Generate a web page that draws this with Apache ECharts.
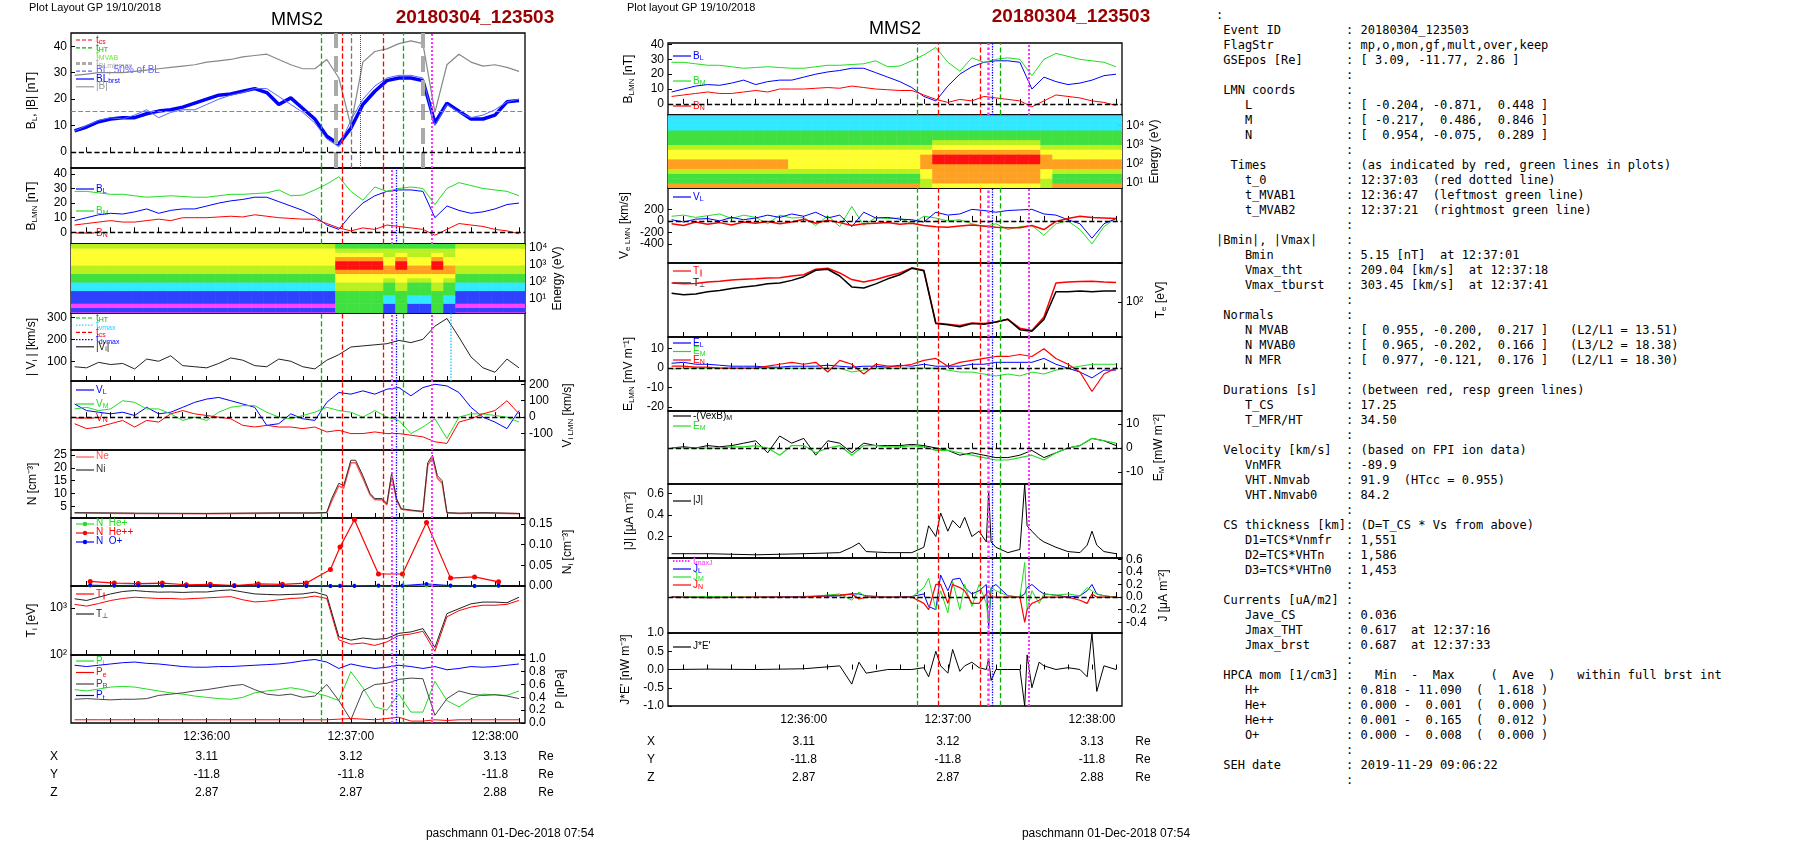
<!DOCTYPE html>
<html>
<head>
<meta charset="utf-8">
<title>MMS2 20180304_123503</title>
<script src="https://cdn.jsdelivr.net/npm/echarts@6/dist/echarts.min.js"></script>
<style>
  body { margin: 0; background: #fff; width: 1804px; height: 841px; overflow: hidden; }
  #chart { position: absolute; left: 0; top: 0; width: 1200px; height: 841px; }
  #info { position: absolute; left: 1216px; top: 8px; margin: 0;
          font-family: 'DejaVu Sans Mono', monospace; font-size: 12px; line-height: 15px; color: #000; }
</style>
</head>
<body>
<div id="chart"></div>
<pre id="info"></pre>
<script>
// ---- time grid (seconds after 12:35:00) ----
var T = [5,10,15,20,25,30,35,40,45,50,55,60,65,70,75,80,85,90,95,100,105,110,115,120,125,130,135,140,145,150,155,160,165,170,175,180,185,190];

// ---- magnetic field ----
var bLthick = [8,9.5,11.5,12.5,13,13,14.5,15.5,16,17,18.5,20,21.5,22,23,24,22.5,18,20.5,16.5,12.5,6,3,9,18,23,27,28,28,27,11,18.5,15.5,12.5,12.5,14,19,19.5];
var bTot = [29,29.5,30,30,30,30.5,31,31.5,32,32.5,33,34,34.5,35,36,36.5,37,35,33,31.5,31.5,35,28,10,34,38,39,41,42,41,15,33,37,34,32.5,33,32,30.5];
var bL = [8,10,12,13,12.5,14,16,13,15,16,16,18,20,21.5,22.5,24,24,21,18,15,11,5,2,12,20,25,28,29,29,28,10,18,15,13,14,16,19,20];
var bM = [28,28,27,26,26,25,24,24.5,25,24.5,24,24,25,26,26,26.5,27,29,25,25.5,29,33,38,28,22,31,28,30,31,30,19,30,34,32,30,29,28,25];
var bN = [5,6,7,8,7,7,8,9,8,10,10,10,10.5,11,10.5,12,11,10,9.5,9,9,6,3,1,3,2,5,4,3,2,-2,2,6,5,4,2,1,-1];

// ---- ion moments ----
var vAbs = [75,70,95,85,90,65,110,100,125,80,75,70,90,115,105,80,75,110,100,75,65,105,130,165,170,175,180,195,185,200,260,295,210,120,70,50,110,70];
var vL = [80,40,30,20,30,10,60,20,30,60,90,110,120,100,80,60,-50,-40,20,-10,-20,90,150,140,160,140,170,180,130,180,200,190,150,60,0,-30,-70,40];
var vM = [50,60,40,50,100,90,50,50,20,-20,0,-20,30,60,70,70,30,0,-10,10,30,60,40,30,0,40,0,-20,-100,-60,-10,-130,0,20,20,10,0,-30];
var vN = [-40,-70,-60,-40,-20,-60,-20,-30,20,40,20,10,0,-10,-50,-60,-50,-60,-60,-70,-60,-90,-80,-100,-100,-90,-100,-100,-110,-120,-150,-160,-30,-10,20,40,100,20];
var tN = [5,30,60,90,105,110,112,115,117,120,122,125,128,130,133,135,137,139,141,145,150,152,154,156,158,160,165,175,190];
var nI = [2.5,2.3,2.2,2.4,2.4,2.6,8,14,13,23,23,17,10,8,8,6,18,8,4,3.5,3,22,25,17,15,2.5,2.3,2.5,2.2];
var nE = [2.4,2.2,2.1,2.3,2.3,2.5,7,13,12,22,22,16,9.5,7.5,7.5,5.5,17,7.5,3.8,3.3,2.8,21,24,16,14,2.4,2.2,2.4,2.1];
var tHe = [11.5,21.5,31.5,41.5,51.5,61.5,71.5,81.5,91.5,101.5,111.5,115.5,121.5,131.5,141.5,151.5,161.5,171.5,181.5];
var nHep = [0.001,0,0.001,0,0,0,0,0,0,0,0,0.001,0.001,0,0,0.001,0,0,0];
var nHepp = [0.011,0.007,0.006,0.007,0.003,0.004,0.001,0.005,0.004,0.007,0.040,0.094,0.160,0.029,0.029,0.153,0.019,0.022,0.010];
var nOp = [0.002,0.001,0.002,0.001,0,0,0,0,0,0,0,0,0,0.001,0.001,0.005,0.001,0,0.001];
var tiPerp = [1575,1450,1700,2000,2250,2360,2250,2180,2200,2150,2200,2200,2350,2440,2200,2000,1950,1910,1950,2000,2180,1850,245,207,230,215,225,290,310,365,145,760,970,1230,1340,1340,1300,1700];
var tiPar = [1200,1100,1250,1450,1600,1700,1650,1600,1600,1550,1600,1650,1700,1750,1500,1350,1400,1500,1600,1650,1800,1600,210,170,180,160,190,260,280,320,120,650,880,1050,1150,1150,1200,1450];
var pTot = [0.9,0.88,0.9,0.92,0.94,0.95,0.93,0.92,0.9,0.88,0.87,0.87,0.88,0.88,0.89,0.9,0.91,0.92,0.94,0.97,0.99,0.95,0.85,0.92,0.88,0.85,0.87,0.9,0.88,0.85,0.88,0.83,0.85,0.88,0.87,0.88,0.9,0.92];
var pI = [0.52,0.5,0.53,0.56,0.57,0.56,0.53,0.5,0.47,0.45,0.42,0.4,0.38,0.37,0.4,0.47,0.5,0.52,0.55,0.52,0.47,0.42,0.35,0.8,0.55,0.25,0.2,0.45,0.17,0.17,0.65,0.35,0.25,0.38,0.45,0.44,0.43,0.5];
var pB = [0.37,0.38,0.37,0.36,0.37,0.37,0.38,0.43,0.45,0.47,0.5,0.52,0.55,0.58,0.6,0.52,0.45,0.43,0.45,0.4,0.42,0.6,0.35,0.05,0.5,0.6,0.62,0.68,0.7,0.69,0.12,0.38,0.5,0.45,0.43,0.44,0.42,0.38];
var pE = [0.05,0.05,0.05,0.05,0.05,0.05,0.05,0.05,0.05,0.05,0.05,0.05,0.05,0.05,0.05,0.05,0.05,0.05,0.05,0.05,0.05,0.05,0.06,0.07,0.06,0.05,0.07,0.09,0.03,0.03,0.05,0.04,0.05,0.05,0.05,0.05,0.05,0.05];

// ---- electrons / fields / currents ----
var veL = [20,-20,30,40,0,60,20,50,100,60,120,80,150,50,100,-100,150,50,60,30,20,-20,150,100,120,200,180,150,180,190,200,120,100,20,-50,-300,-50,40];
var veM = [80,100,60,90,120,40,100,60,-50,100,50,60,-80,90,-100,250,-80,60,40,50,-50,80,50,0,20,-50,-100,-50,-150,-100,-80,-250,-50,0,-150,-400,-100,50];
var veN = [-50,-80,-20,-60,-30,-70,-20,-40,-10,-50,-20,30,-40,10,-30,-80,-50,-40,-30,-60,-40,-80,-100,-110,-90,-70,-90,-110,-120,-120,-80,-150,-10,40,80,60,50,40];
var tePar = [240,230,235,250,260,275,285,290,300,305,330,350,450,470,380,280,250,280,330,380,480,430,38,36,34,38,37,40,45,30,27,50,240,250,255,260,250,245];
var tePerp = [150,140,145,160,170,185,200,210,230,240,270,320,430,450,330,200,190,230,290,350,470,420,37,35,32,37,36,40,45,28,26,45,160,160,165,160,165,165];
var eL = [2.5,3,2,2,1.5,1,1,1,0.5,0.5,1,1,1,1.5,1,0.5,1,1,0.5,1.5,1,2,1,1,1,2,2,3,3,3,3,5,2,0,-2,-5,-1,-1];
var eM = [-0.5,0,0,0,0,0,0,0,0,0,0,0,0,0,0,-2,-1,0,0,0,0,0,0,-1,-2,-2,-3,-4,-3,-4,-2,-3,-1,0,1,2,2,2];
var eN = [1,1,0.5,0.5,0,0,0,0,1,2,3,2,3,-2,4,2,-3,2,1,1,2,4,5,1,3,4,5,6,6,7,6,10,5,2,-2,-12,-3,0];
var vxbM = [0,0.5,0,1,0.5,1,2,3,-2,5,2,4,-3,3,2,-2,2,1,1,1,1.5,1,0,-1,-3,-2,-3,-4,-4,-3,-1,-4,-2,0,1,4,3,1];
var eMg = [0,0,0,0,0,0.5,0.5,1,0,-3,1,1,-2,0,1,-3,1,1,0.5,0.5,1,0.5,-1,-1,-2,-3,-4,-5,-5,-4,-3,-5,-2,0,1,4,3,2];
var tJ = [5,20,40,60,75,80,83,86,95,105,110,112,115,117,120,122,125,127,130,133,136,137,138,140,145,150,152,153,155,158,160,165,170,175,178,180,182,185,190];
var jAbs = [0.04,0.04,0.03,0.04,0.05,0.1,0.14,0.06,0.05,0.05,0.1,0.3,0.2,0.42,0.25,0.35,0.28,0.38,0.2,0.25,0.15,0.62,0.15,0.1,0.05,0.08,0.69,0.3,0.25,0.18,0.15,0.1,0.06,0.05,0.12,0.25,0.12,0.06,0.04];
var jL = [0.01,-0.01,0,0.01,0.02,0.05,0.05,0.02,0,0.01,0.05,-0.15,-0.2,0.35,0.1,0.28,0.3,0.15,0.05,0.1,0.2,-0.5,0.15,0.2,0.02,0,0.05,0.15,0.2,0.1,0.05,0.03,0,0.02,0.1,0.2,0.05,0.02,0];
var jM = [0,0.01,0,0,0.05,-0.05,0.08,0,0,0,0.15,0.3,-0.2,0.1,-0.25,0.25,-0.2,0.2,-0.15,0.2,-0.1,-0.4,0.15,0.1,0.02,0,0.55,-0.2,0.1,-0.1,0.05,0.03,0.05,0.02,0.15,0.1,0.05,0.02,0];
var jN = [0,-0.01,0,0,0.03,0.05,-0.03,0,0,0,-0.1,-0.2,0.2,0.2,-0.1,0.2,0.15,0.1,-0.1,-0.1,0.05,0.1,0,0,0,0,-0.4,-0.2,-0.1,-0.05,0,0,0,-0.05,-0.1,0.05,0,0,0];
var jE = [0,0.01,0,0.02,0.1,-0.4,0.2,-0.1,0,0,0.05,-0.2,0.5,0.1,-0.1,0.55,-0.05,0.1,0.2,0.05,0,0.3,-0.3,0,0,0,-1.0,0.4,-0.5,0.2,0.1,0,0.05,0,-0.2,1.0,-0.6,0.1,0];

// ---- spectrograms: colour level per energy bin (0.25 decade bins from 10^0) ----
var specT0 = 3.5, specDt = 5, specDe = 0.25;
var ionProfiles = [
  [0,1,0,1,1,1,2,2,3,3,4,4,5,5,5,5,4,4],   // magnetosphere
  [3,3,3,3,3,3,4,4,5,5,6,7,7,6,5,4,3,3],   // magnetosheath
  [1,1,1,2,2,3,3,3,4,5,6,6,5,5,4,4,3,3]    // mixed
];
var ionRegion = [0,0,0,0,0,0,0,0,0,0,0,0,0,0,0,0,0,0,0,0,0,0,1,1,1,1,2,1,2,2,1,2,0,0,0,0,0,0];
var eleProfiles = [
  [6,6,6,6,3,3,4,5,5,5,5,4,3,3,3,2,2,2,0],
  [5,5,5,5,6,6,6,6,7,7,6,5,4,3,3,2,2,2,0],
  [5,5,5,4,4,5,5,6,6,6,5,4,3,3,3,2,2,2,0],
  [6,6,6,6,3,3,4,6,6,5,5,4,3,3,3,2,2,2,0]
];
var eleRegion = [3,3,3,3,3,3,3,3,3,3,0,0,0,0,0,0,0,0,0,0,0,2,1,1,1,1,1,1,1,1,1,2,3,3,3,3,3,3];
var specColors = ['#ff40ff','#3040ff','#30e8ff','#40e040','#b8f020','#ffff30','#ffa020','#ff1010'];

var posT = [60,120,180];
var posX = ['3.11','3.12','3.13'];
var posY = ['-11.8','-11.8','-11.8'];
var posZ = ['2.87','2.87','2.88'];

var infoRows = [
  [' Event ID', '20180304_123503'],
  [' FlagStr', 'mp,o,mon,gf,mult,over,keep'],
  [' GSEpos [Re]', '[ 3.09, -11.77, 2.86 ]'],
  ['', ''],
  [' LMN coords', ''],
  ['    L', '[ -0.204, -0.871,  0.448 ]'],
  ['    M', '[ -0.217,  0.486,  0.846 ]'],
  ['    N', '[  0.954, -0.075,  0.289 ]'],
  ['', ''],
  ['  Times', '(as indicated by red, green lines in plots)'],
  ['    t_0', '12:37:03  (red dotted line)'],
  ['    t_MVAB1', '12:36:47  (leftmost green line)'],
  ['    t_MVAB2', '12:37:21  (rightmost green line)'],
  ['', ''],
  ['|Bmin|, |Vmax|', ''],
  ['    Bmin', '5.15 [nT]  at 12:37:01'],
  ['    Vmax_tht', '209.04 [km/s]  at 12:37:18'],
  ['    Vmax_tburst', '303.45 [km/s]  at 12:37:41'],
  ['', ''],
  [' Normals', ''],
  ['    N MVAB', '[  0.955, -0.200,  0.217 ]   (L2/L1 = 13.51)'],
  ['    N MVAB0', '[  0.965, -0.202,  0.166 ]   (L3/L2 = 18.38)'],
  ['    N MFR', '[  0.977, -0.121,  0.176 ]   (L2/L1 = 18.30)'],
  ['', ''],
  [' Durations [s]', '(between red, resp green lines)'],
  ['    T_CS', '17.25'],
  ['    T_MFR/HT', '34.50'],
  ['', ''],
  [' Velocity [km/s]', '(based on FPI ion data)'],
  ['    VnMFR', '-89.9'],
  ['    VHT.Nmvab', '91.9  (HTcc = 0.955)'],
  ['    VHT.Nmvab0', '84.2'],
  ['', ''],
  [' CS thickness [km]', '(D=T_CS * Vs from above)'],
  ['    D1=TCS*Vnmfr', '1,551'],
  ['    D2=TCS*VHTn', '1,586'],
  ['    D3=TCS*VHTn0', '1,453'],
  ['', ''],
  [' Currents [uA/m2]', ''],
  ['    Jave_CS', '0.036'],
  ['    Jmax_THT', '0.617  at 12:37:16'],
  ['    Jmax_brst', '0.687  at 12:37:33'],
  ['', ''],
  [' HPCA mom [1/cm3]', '  Min  -  Max     (  Ave  )   within full brst int'],
  ['    H+', '0.818 - 11.090  (  1.618 )'],
  ['    He+', '0.000 -  0.001  (  0.000 )'],
  ['    He++', '0.001 -  0.165  (  0.012 )'],
  ['    O+', '0.000 -  0.008  (  0.000 )'],
  ['', ''],
  [' SEH date', '2019-11-29 09:06:22'],
  ['', '']
];
var infoText = ':\n' + infoRows.map(function (r) {
  var s = r[0]; while (s.length < 18) s += ' ';
  return s + ': ' + r[1];
}).join('\n');
document.getElementById('info').textContent = infoText;

// ---- layout ----
var W = 454;
var LX = 71, MX = 668;
var LP = [[33,135],[168,76],[244,69],[313,68],[381,69],[450,68],[518,68],[586,69],[655,68]];
var MP = [[43,72],[115,73],[188,75],[263,74],[337,74],[411,73],[484,74],[558,75],[633,73]];
var FONT = "'Liberation Sans', Arial, sans-serif";
var GRN = '#00b400', LGRN = '#22dd22', BLU = '#0000ff', RED = '#ff0000', MAG = '#ff33ff';

var grids = [], xAxes = [], yAxes = [], series = [], graphics = [];
var xticks = [10,20,30,40,50,60,70,80,90,100,110,120,130,140,150,160,170,180,190];
var richSub = { s: { fontSize: 8, padding: [6, 0, 0, 0], fontFamily: FONT } };

function pairs(tt, vv) { return tt.map(function (x, i) { return [x, vv[i]]; }); }

function addGrid(x, p, y, last) {
  var i = grids.length;
  grids.push({ left: x, top: p[0], width: W, height: p[1], show: true, borderColor: '#000', borderWidth: 1.3, backgroundColor: 'rgba(0,0,0,0)' });
  xAxes.push({
    gridIndex: i, type: 'value', min: 3.5, max: 192.5,
    axisLine: { show: false }, splitLine: { show: false },
    axisTick: { inside: true, length: 5, customValues: xticks, lineStyle: { color: '#000' } },
    axisLabel: { show: !!last, customValues: posT, color: '#000', fontSize: 12, fontFamily: FONT, margin: 8,
      formatter: function (v) { return '12:' + (35 + v / 60) + ':00'; } }
  });
  var ya = {
    gridIndex: i, type: y.type || 'value', min: y.min, max: y.max, position: y.pos || 'left',
    axisLine: { show: false }, splitLine: { show: false },
    axisTick: { inside: true, length: 4, lineStyle: { color: '#000' } },
    axisLabel: { color: '#000', fontSize: 12, fontFamily: FONT, margin: 4, formatter: y.fmt },
    name: y.name, nameLocation: 'middle', nameGap: y.gap || 34, nameRotate: 90,
    nameTextStyle: { color: '#000', fontSize: 12, fontFamily: FONT, rich: richSub }
  };
  if (y.ticks) { ya.axisTick.customValues = y.ticks; ya.axisLabel.customValues = y.ticks; }
  if (y.logBase) ya.logBase = y.logBase;
  yAxes.push(ya);
  return i;
}

function ln(gi, data, color, width, extra) {
  var s = { type: 'line', xAxisIndex: gi, yAxisIndex: gi, data: data, showSymbol: false, symbol: 'none',
    lineStyle: { color: color, width: width || 1 }, itemStyle: { color: color }, animation: false, silent: true, z: 3 };
  if (extra) for (var k in extra) s[k] = extra[k];
  series.push(s);
  return s;
}

function marks(vl, zero, extraY) {
  var d = vl.map(function (m) {
    return { xAxis: m.t, lineStyle: { color: m.c, type: m.d, width: m.w || 1.3 } };
  });
  if (zero !== undefined && zero !== null) d.push({ yAxis: zero, lineStyle: { color: '#000', type: 'dashed', width: 1.3 } });
  if (extraY) d.push(extraY);
  return { symbol: 'none', silent: true, animation: false, label: { show: false }, data: d };
}

var leftLines = [
  { t: 107.5, c: GRN, d: 'dashed' }, { t: 116.4, c: RED, d: 'dashed' }, { t: 133.6, c: RED, d: 'dashed' },
  { t: 137, c: MAG, d: 'dotted', w: 2 }, { t: 138.8, c: BLU, d: 'dotted' }, { t: 142, c: GRN, d: 'dashed' },
  { t: 153.7, c: MAG, d: 'dotted', w: 2 }
];
var topLines = [
  { t: 107.5, c: GRN, d: 'dashed' }, { t: 113.6, c: '#aaaaaa', d: 'dashed', w: 4 }, { t: 116.4, c: RED, d: 'dashed' },
  { t: 120.2, c: '#777777', d: 'dashed' }, { t: 123.9, c: RED, d: 'dotted', w: 1 }, { t: 133.6, c: RED, d: 'dashed' },
  { t: 142, c: GRN, d: 'dashed' }, { t: 150, c: '#aaaaaa', d: 'dashed', w: 4 }, { t: 153.7, c: MAG, d: 'dotted', w: 2 }
];
var midLines = [
  { t: 107.3, c: GRN, d: 'dashed' }, { t: 116, c: RED, d: 'dashed' }, { t: 133.3, c: RED, d: 'dashed' },
  { t: 136.8, c: MAG, d: 'dotted', w: 2.5 }, { t: 138.6, c: BLU, d: 'dotted' }, { t: 141.8, c: GRN, d: 'dashed' },
  { t: 153.5, c: MAG, d: 'dotted', w: 2 }
];

function legend(gx, gy, items, sp, dy) {
  items.forEach(function (it, k) {
    var y = gy + (dy || 8) + k * (sp || 9);
    if (it.line !== false) graphics.push({ type: 'line', silent: true, shape: { x1: gx + 5, y1: y, x2: gx + 23, y2: y },
      style: { stroke: it.c, lineWidth: it.w || 1.2, lineDash: it.d === 'dashed' ? [4, 2] : it.d === 'dotted' ? [1.5, 1.5] : null } });
    if (it.dot) graphics.push({ type: 'circle', silent: true, shape: { cx: gx + 14, cy: y, r: 2.2 }, style: { fill: it.c } });
    graphics.push({ type: 'text', silent: true, x: gx + 25, y: y - 6,
      style: { text: it.t, fill: it.tc || it.c, fontSize: it.fs || 10, fontFamily: FONT, rich: { s: { fontSize: 7, padding: [5, 0, 0, 0], fill: it.tc || it.c } } } });
  });
}

function spectro(gi, profiles, region) {
  var data = [];
  region.forEach(function (r, i) {
    var prof = profiles[r];
    for (var j = 0; j < prof.length; j++) {
      data.push([specT0 + i * specDt, specT0 + (i + 1) * specDt, j * specDe, (j + 1) * specDe, prof[j]]);
    }
  });
  series.push({
    type: 'custom', xAxisIndex: gi, yAxisIndex: gi, data: data, clip: true, silent: true, animation: false,
    renderItem: function (params, api) {
      var p0 = api.coord([api.value(0), api.value(3)]);
      var p1 = api.coord([api.value(1), api.value(2)]);
      return { type: 'rect', shape: { x: p0[0], y: p0[1], width: p1[0] - p0[0] + 0.5, height: p1[1] - p0[1] + 0.5 },
        style: { fill: specColors[api.value(4)] } };
    }
  });
}

var pow = { 1: '10¹', 2: '10²', 3: '10³', 4: '10⁴' };
function powFmt(v) { return pow[Math.round(v)] || ''; }
function logFmt(v) { return v === 10 ? '10¹' : v === 100 ? '10²' : v === 1000 ? '10³' : ''; }

// ================= LEFT COLUMN =================
var g;
g = addGrid(LX, LP[0], { min: -6, max: 45, ticks: [0,10,20,30,40], name: 'B{s|L}, |B| [nT]', gap: 32 });
ln(g, pairs(T, bTot), '#888888', 1.2, { markLine: marks(topLines, 0, { yAxis: 15.5, lineStyle: { color: '#7777ff', type: 'dashed', width: 1.2 } }) });
ln(g, pairs(T, bLthick), BLU, 3.5);
ln(g, pairs(T, bL), '#5566ff', 1);
legend(LX, LP[0][0], [
  { t: 't{s|cs}', c: RED, d: 'dashed' }, { t: 't{s|HT}', c: GRN, d: 'dashed' }, { t: 't{s|MVAB}', c: '#66ee22', line: false },
  { t: 't{s|BLminmax}', c: '#aaaaaa', d: 'dashed', w: 3 }, { t: 'BL, 50% of BL', c: '#6666ff', d: 'dashed' },
  { t: 'BL{s|brst}', c: BLU }, { t: '|B|', c: '#999999' }
], 7.8, 7);

g = addGrid(LX, LP[1], { min: -8, max: 44, ticks: [0,10,20,30,40], name: 'B{s|LMN} [nT]', gap: 32 });
ln(g, pairs(T, bL), BLU, 1, { markLine: marks(leftLines, 0) });
ln(g, pairs(T, bM), LGRN, 1);
ln(g, pairs(T, bN), RED, 1);
legend(LX, LP[1][0], [{ t: 'B{s|L}', c: BLU }, { t: 'B{s|M}', c: LGRN }, { t: 'B{s|N}', c: RED }], 22, 21);

g = addGrid(LX, LP[2], { min: 0.18, max: 4.24, ticks: [1,2,3,4], fmt: powFmt, pos: 'right', name: 'Energy (eV)', gap: 26 });
spectro(g, ionProfiles, ionRegion);

g = addGrid(LX, LP[3], { min: 10, max: 320, ticks: [100,200,300], name: '| V{s|i} | [km/s]', gap: 32 });
ln(g, pairs(T, vAbs), '#222222', 1, { markLine: marks(leftLines.concat([{ t: 161.5, c: '#33ccff', d: 'dotted', w: 1.5 }])) });
legend(LX, LP[3][0], [
  { t: 't{s|HT}', c: GRN, d: 'dashed' }, { t: 't{s|vmax}', c: '#33ccff', d: 'dotted' }, { t: 't{s|cs}', c: RED, d: 'dashed' },
  { t: 't{s|dvmax}', c: BLU, d: 'dotted' }, { t: '|V{s|i}|', c: '#222222' }
], 7.2, 5);

g = addGrid(LX, LP[4], { min: -200, max: 220, ticks: [-100,0,100,200], pos: 'right', name: 'V{s|i LMN} [km/s]', gap: 36 });
ln(g, pairs(T, vL), BLU, 1, { markLine: marks(leftLines, 0) });
ln(g, pairs(T, vM), LGRN, 1);
ln(g, pairs(T, vN), RED, 1);
legend(LX, LP[4][0], [{ t: 'V{s|L}', c: BLU }, { t: 'V{s|M}', c: LGRN }, { t: 'V{s|N}', c: RED }], 14, 9);

g = addGrid(LX, LP[5], { min: 0.4, max: 27, ticks: [5,10,15,20,25], name: 'N [cm⁻³]', gap: 32 });
ln(g, pairs(tN, nE), '#ff5555', 1.5, { markLine: marks(leftLines) });
ln(g, pairs(tN, nI), '#333333', 1);
legend(LX, LP[5][0], [{ t: 'Ne', c: '#ff5555' }, { t: 'Ni', c: '#333333' }], 13, 7);

g = addGrid(LX, LP[6], { min: 0, max: 0.164, ticks: [0,0.05,0.1,0.15], pos: 'right', name: 'N{s|i} [cm⁻³]', gap: 36,
  fmt: function (v) { return v.toFixed(2); } });
ln(g, pairs(tHe, nHep), '#22dd22', 1, { showSymbol: true, symbol: 'circle', symbolSize: 4, markLine: marks(leftLines) });
ln(g, pairs(tHe, nHepp), RED, 1.2, { showSymbol: true, symbol: 'circle', symbolSize: 5 });
ln(g, pairs(tHe, nOp), BLU, 1, { showSymbol: true, symbol: 'circle', symbolSize: 4 });
legend(LX, LP[6][0], [{ t: 'N  He+', c: '#22dd22', dot: true }, { t: 'N  He++', c: RED, dot: true }, { t: 'N  O+', c: BLU, dot: true }], 9, 6);

g = addGrid(LX, LP[7], { type: 'log', logBase: 10, min: 100, max: 2950, fmt: logFmt, name: 'T{s|i} [eV]', gap: 32 });
ln(g, pairs(T, tiPar), RED, 1, { markLine: marks(leftLines) });
ln(g, pairs(T, tiPerp), '#222222', 1);
legend(LX, LP[7][0], [{ t: 'T{s|∥}', c: RED }, { t: 'T{s|⊥}', c: '#222222' }], 20, 8);

g = addGrid(LX, LP[8], { min: 0, max: 1.06, ticks: [0,0.2,0.4,0.6,0.8,1.0], pos: 'right', name: 'P [nPa]', gap: 30,
  fmt: function (v) { return v.toFixed(1); } }, true);
ln(g, pairs(T, pTot), BLU, 1, { markLine: marks(leftLines) });
ln(g, pairs(T, pI), LGRN, 1);
ln(g, pairs(T, pB), '#444444', 1);
ln(g, pairs(T, pE), RED, 1);
legend(LX, LP[8][0], [{ t: 'P{s|i}', c: LGRN }, { t: 'P{s|e}', c: RED }, { t: 'P{s|B}', c: '#444444' }, { t: 'P{s|t}', c: BLU }], 11.5, 6);

// ================= MIDDLE COLUMN =================
g = addGrid(MX, MP[0], { min: -7.5, max: 41, ticks: [0,10,20,30,40], name: 'B{s|LMN} [nT]', gap: 32 });
ln(g, pairs(T, bL), BLU, 1, { markLine: marks(midLines, 0) });
ln(g, pairs(T, bM), LGRN, 1);
ln(g, pairs(T, bN), RED, 1);
legend(MX, MP[0][0], [{ t: 'B{s|L}', c: BLU }, { t: 'B{s|M}', c: LGRN }, { t: 'B{s|N}', c: RED }], 25, 13);

g = addGrid(MX, MP[1], { min: 0.74, max: 4.53, ticks: [1,2,3,4], fmt: powFmt, pos: 'right', name: 'Energy (eV)', gap: 26 });
spectro(g, eleProfiles, eleRegion);

g = addGrid(MX, MP[2], { min: -730, max: 570, ticks: [-600,-400,-200,0,200,400], name: 'V{s|e LMN} [km/s]', gap: 36 });
ln(g, pairs(T, veM), LGRN, 1, { markLine: marks(midLines, 0) });
ln(g, pairs(T, veL), BLU, 1);
ln(g, pairs(T, veN), RED, 1.5);
legend(MX, MP[2][0], [{ t: 'V{s|L}', c: BLU }], 10, 9);

g = addGrid(MX, MP[3], { type: 'log', logBase: 10, min: 20, max: 600, fmt: logFmt, pos: 'right', name: 'T{s|e} [eV]', gap: 32 });
ln(g, pairs(T, tePar), RED, 1.5, { markLine: marks(midLines) });
ln(g, pairs(T, tePerp), '#000000', 1.5);
legend(MX, MP[3][0], [{ t: 'T{s|∥}', c: RED }, { t: 'T{s|⊥}', c: '#000000' }], 12, 8);

g = addGrid(MX, MP[4], { min: -22, max: 16, ticks: [-20,-10,0,10], name: 'E{s|LMN} [mV m⁻¹]', gap: 32 });
ln(g, pairs(T, eM), LGRN, 1, { markLine: marks(midLines, 0) });
ln(g, pairs(T, eL), BLU, 1);
ln(g, pairs(T, eN), RED, 1.2);
legend(MX, MP[4][0], [{ t: 'E{s|L}', c: BLU }, { t: 'E{s|M}', c: LGRN }, { t: 'E{s|N}', c: RED }], 8.5, 6);

g = addGrid(MX, MP[5], { min: -15, max: 15.4, ticks: [-10,0,10], pos: 'right', name: 'E{s|M} [mW m⁻²]', gap: 30 });
ln(g, pairs(T, vxbM), '#000000', 1, { markLine: marks(midLines, 0) });
ln(g, pairs(T, eMg), LGRN, 1.2);
legend(MX, MP[5][0], [{ t: '-(VexB){s|M}', c: '#000000' }, { t: 'E{s|M}', c: LGRN }], 10, 5);

g = addGrid(MX, MP[6], { min: 0, max: 0.69, ticks: [0.2,0.4,0.6], name: '|J| [μA m⁻²]', gap: 32,
  fmt: function (v) { return v.toFixed(1); } });
ln(g, pairs(tJ, jAbs), '#000000', 1, { markLine: marks(midLines) });
legend(MX, MP[6][0], [{ t: '|J|', c: '#000000' }], 10, 17);

g = addGrid(MX, MP[7], { min: -0.57, max: 0.62, ticks: [-0.4,-0.2,0,0.2,0.4,0.6], pos: 'right', name: 'J [μA m⁻²]', gap: 36,
  fmt: function (v) { return v.toFixed(1); } });
ln(g, pairs(tJ, jL), BLU, 1, { markLine: marks(midLines, 0) });
ln(g, pairs(tJ, jM), LGRN, 1);
ln(g, pairs(tJ, jN), RED, 1.2);
legend(MX, MP[7][0], [{ t: 't{s|maxJ}', c: MAG, d: 'dotted', w: 2 }, { t: 'J{s|L}', c: BLU }, { t: 'J{s|M}', c: LGRN }, { t: 'J{s|N}', c: RED }], 8, 3);

g = addGrid(MX, MP[8], { min: -1, max: 1, ticks: [-1,-0.5,0,0.5,1], name: "J*E' [nW m⁻³]", gap: 36,
  fmt: function (v) { return v.toFixed(1); } }, true);
ln(g, pairs(tJ, jE), '#000000', 1, { markLine: marks(midLines) });
legend(MX, MP[8][0], [{ t: "J*E'", c: '#000000' }], 10, 14);

// ---- titles & footer texts ----
function txt(x, y, s, o) {
  var st = { text: s, fill: '#000', fontSize: 12, fontFamily: FONT, align: 'center', verticalAlign: 'middle' };
  if (o) for (var k in o) st[k] = o[k];
  graphics.push({ type: 'text', silent: true, x: x, y: y, style: st });
}
txt(29, 8, 'Plot Layout GP 19/10/2018', { align: 'left', fontSize: 11 });
txt(297, 20, 'MMS2', { fontSize: 18 });
txt(475, 18, '20180304_123503', { fontSize: 19, fontWeight: 'bold', fill: '#990000' });
txt(627, 8, 'Plot layout GP 19/10/2018', { align: 'left', fontSize: 11 });
txt(895, 29, 'MMS2', { fontSize: 18 });
txt(1071, 17, '20180304_123503', { fontSize: 19, fontWeight: 'bold', fill: '#990000' });

function posRows(x0, rowX, reX, y0, dy) {
  var labels = ['X', 'Y', 'Z'], vals = [posX, posY, posZ];
  for (var r = 0; r < 3; r++) {
    var y = y0 + r * dy;
    txt(rowX, y, labels[r]);
    for (var c = 0; c < 3; c++) txt(x0 + (posT[c] - 3.5) * W / 189, y, vals[r][c]);
    txt(reX, y, 'Re');
  }
}
posRows(LX, 54, 546, 757, 18);
posRows(MX, 651, 1143, 742, 18);
txt(510, 834, 'paschmann 01-Dec-2018 07:54');
txt(1106, 834, 'paschmann 01-Dec-2018 07:54');

var chart = echarts.init(document.getElementById('chart'));
chart.setOption({
  backgroundColor: '#ffffff',
  animation: false,
  grid: grids, xAxis: xAxes, yAxis: yAxes, series: series, graphic: graphics
});
</script>
</body>
</html>
